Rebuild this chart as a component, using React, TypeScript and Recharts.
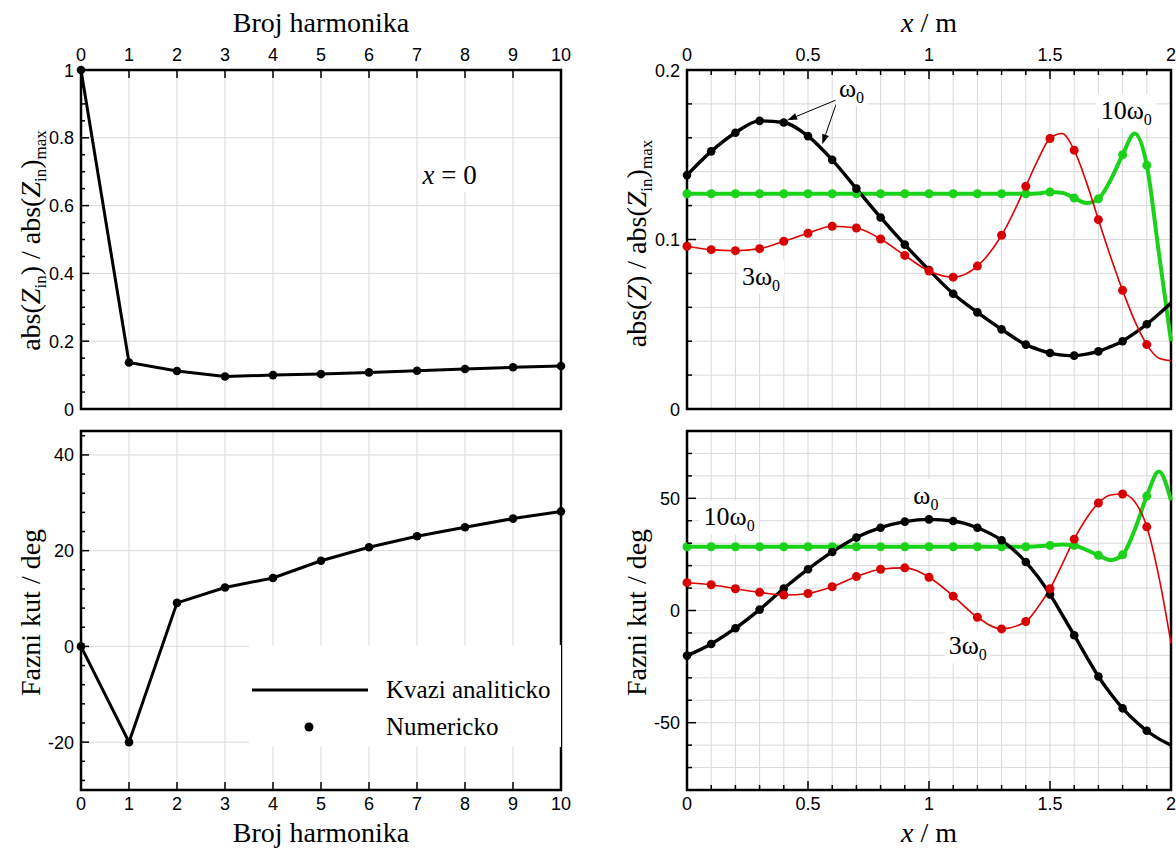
import React from 'react';
import {
  ComposedChart, Line, XAxis, YAxis, CartesianGrid, ReferenceArea, ReferenceDot, ReferenceLine, Legend,
} from 'recharts';

const SERIF = '"Liberation Serif", "Times New Roman", serif';
const SANS = '"Liberation Sans", Arial, sans-serif';
const GRID = '#d9d9d9';
const CRNA = '#000000';
const CRVENA = '#e00000';
const ZELENA = '#1ad21a';

// lijevi stupac: ulazna impedancija po broju harmonika (x = 0)
const harmonici = [0, 1, 2, 3, 4, 5, 6, 7, 8, 9, 10];
const absZinOmjer = [1, 0.137, 0.112, 0.096, 0.1, 0.103, 0.108, 0.113, 0.118, 0.123, 0.127];
const fazaZin = [0, -20, 9.1, 12.3, 14.3, 17.9, 20.7, 23.0, 24.9, 26.7, 28.2];

// desni stupac: raspodjela duz voda, numericke tocke
const xNum = [0, 0.1, 0.2, 0.3, 0.4, 0.5, 0.6, 0.7, 0.8, 0.9, 1.0, 1.1, 1.2, 1.3, 1.4, 1.5, 1.6, 1.7, 1.8, 1.9];
const absW0Num = [0.138, 0.152, 0.163, 0.17, 0.169, 0.161, 0.147, 0.13, 0.113, 0.097, 0.082, 0.068, 0.057, 0.047, 0.038, 0.033, 0.0315, 0.034, 0.04, 0.05];
const abs3W0Num = [0.096, 0.094, 0.0934, 0.0946, 0.099, 0.1037, 0.1078, 0.1068, 0.1003, 0.0906, 0.0814, 0.0778, 0.0843, 0.1025, 0.1314, 0.1596, 0.1527, 0.1117, 0.07, 0.038];
const abs10W0Num = [0.127, 0.127, 0.127, 0.127, 0.127, 0.127, 0.127, 0.127, 0.127, 0.127, 0.127, 0.127, 0.127, 0.127, 0.127, 0.128, 0.1245, 0.124, 0.15, 0.1438];
const fazaW0Num = [-20.1, -14.9, -7.9, 0.4, 9.8, 18.4, 26.1, 32.5, 36.9, 39.6, 40.6, 39.9, 36.9, 31.3, 21.6, 7.2, -11.0, -29.4, -43.6, -53.6];
const faza3W0Num = [12.4, 11.5, 9.7, 8.1, 6.9, 7.6, 10.6, 15.1, 18.4, 19.0, 14.8, 6.4, -3.0, -8.2, -4.9, 9.7, 31.8, 47.9, 51.9, 37.3];
const faza10W0Num = [28.4, 28.4, 28.4, 28.4, 28.4, 28.4, 28.4, 28.4, 28.4, 28.4, 28.4, 28.4, 28.4, 28.4, 28.4, 29.0, 29.0, 24.6, 24.8, 51.0];

// kvazi analiticke krivulje (gusce pri kraju voda)
const xKriv = [0, 0.1, 0.2, 0.3, 0.4, 0.5, 0.6, 0.7, 0.8, 0.9, 1.0, 1.1, 1.2, 1.3, 1.4, 1.45, 1.5, 1.55, 1.6, 1.65, 1.7, 1.75, 1.8, 1.85, 1.9, 1.95, 2.0];
const absW0Kriv = [0.138, 0.152, 0.163, 0.17, 0.169, 0.161, 0.147, 0.13, 0.113, 0.097, 0.082, 0.068, 0.057, 0.047, 0.038, 0.0352, 0.033, 0.0318, 0.0315, 0.0324, 0.034, 0.0368, 0.04, 0.0448, 0.05, 0.056, 0.0625];
const abs3W0Kriv = [0.096, 0.094, 0.0934, 0.0946, 0.099, 0.1037, 0.1078, 0.1068, 0.1003, 0.0906, 0.0814, 0.0778, 0.0843, 0.1025, 0.1314, 0.147, 0.1596, 0.1625, 0.1527, 0.134, 0.1117, 0.09, 0.07, 0.052, 0.038, 0.03, 0.0286];
const abs10W0Kriv = [0.127, 0.127, 0.127, 0.127, 0.127, 0.127, 0.127, 0.127, 0.127, 0.127, 0.127, 0.127, 0.127, 0.127, 0.127, 0.1272, 0.128, 0.1275, 0.1245, 0.1215, 0.124, 0.135, 0.15, 0.1625, 0.1438, 0.092, 0.04];
const fazaW0Kriv = [-20.1, -14.9, -7.9, 0.4, 9.8, 18.4, 26.1, 32.5, 36.9, 39.6, 40.6, 39.9, 36.9, 31.3, 21.6, 15.0, 7.2, -1.8, -11.0, -20.4, -29.4, -37.0, -43.6, -49.0, -53.6, -57.2, -60.0];
const faza3W0Kriv = [12.4, 11.5, 9.7, 8.1, 6.9, 7.6, 10.6, 15.1, 18.4, 19.0, 14.8, 6.4, -3.0, -8.2, -4.9, 1.5, 9.7, 20.5, 31.8, 41.0, 47.9, 51.5, 51.9, 48.5, 37.3, 15.0, -14.5];
const faza10W0Kriv = [28.4, 28.4, 28.4, 28.4, 28.4, 28.4, 28.4, 28.4, 28.4, 28.4, 28.4, 28.4, 28.4, 28.4, 28.4, 28.6, 29.0, 29.4, 29.0, 27.0, 24.6, 22.5, 24.8, 36.0, 51.0, 62.0, 49.0];

// oznake osi
const absLijevoTicks = [0, 0.05, 0.1, 0.15, 0.2, 0.25, 0.3, 0.35, 0.4, 0.45, 0.5, 0.55, 0.6, 0.65, 0.7, 0.75, 0.8, 0.85, 0.9, 0.95, 1];
const absLijevoGlavne = [0, 0.2, 0.4, 0.6, 0.8, 1];
const fazaLijevoTicks = [-28, -24, -20, -16, -12, -8, -4, 0, 4, 8, 12, 16, 20, 24, 28, 32, 36, 40, 44];
const fazaLijevoGlavne = [-20, 0, 20, 40];
const xDesnoTicks = [0, 0.1, 0.2, 0.3, 0.4, 0.5, 0.6, 0.7, 0.8, 0.9, 1, 1.1, 1.2, 1.3, 1.4, 1.5, 1.6, 1.7, 1.8, 1.9, 2];
const xDesnoGlavne = [0, 0.5, 1, 1.5, 2];
const absDesnoTicks = [0, 0.02, 0.04, 0.06, 0.08, 0.1, 0.12, 0.14, 0.16, 0.18, 0.2];
const absDesnoGlavne = [0, 0.1, 0.2];
const fazaDesnoTicks = [-80, -70, -60, -50, -40, -30, -20, -10, 0, 10, 20, 30, 40, 50, 60, 70, 80];
const fazaDesnoGlavne = [-50, 0, 50];

const rows = (xs: number[], ys: number[]) => xs.map((x, i) => ({ x, v: ys[i] }));
const harmRows = harmonici.map((n, i) => ({ x: n, abs: absZinOmjer[i], faza: fazaZin[i] }));

const fmt = (v: number) => String(Math.round(v * 1000) / 1000);

function makeTick(side: 'top' | 'bottom' | 'left', majors: number[], majorLen: number, minorLen: number) {
  return (props: any) => {
    const { x, y, payload } = props;
    const v = payload.value;
    const major = majors.some((m) => Math.abs(m - v) < 1e-6);
    const len = major ? majorLen : minorLen;
    if (side === 'left') {
      return (
        <g>
          <line x1={x} y1={y} x2={x + len} y2={y} stroke="#000" strokeWidth={1.5} />
          {major && (
            <text x={x - 7} y={y + 6.5} textAnchor="end" fontFamily={SANS} fontSize={18} fill="#000">{fmt(v)}</text>
          )}
        </g>
      );
    }
    if (side === 'top') {
      return (
        <g>
          <line x1={x} y1={y} x2={x} y2={y + len} stroke="#000" strokeWidth={1.5} />
          {major && (
            <text x={x} y={y - 9} textAnchor="middle" fontFamily={SANS} fontSize={18} fill="#000">{fmt(v)}</text>
          )}
        </g>
      );
    }
    return (
      <g>
        <line x1={x} y1={y} x2={x} y2={y - len} stroke="#000" strokeWidth={1.5} />
        {major && (
          <text x={x} y={y + 20} textAnchor="middle" fontFamily={SANS} fontSize={18} fill="#000">{fmt(v)}</text>
        )}
      </g>
    );
  };
}

const xTitle = (baseline: number, content: React.ReactNode) => (props: any) => {
  const vb = props.viewBox;
  return (
    <text x={vb.x + vb.width / 2} y={vb.y + baseline} textAnchor="middle" fontFamily={SERIF} fontSize={28} fill="#000">
      {content}
    </text>
  );
};

const yTitle = (baseX: number, shift: number, content: React.ReactNode) => (props: any) => {
  const vb = props.viewBox;
  const cy = vb.y + vb.height / 2 + shift;
  return (
    <text x={baseX} y={cy} transform={`rotate(-90, ${baseX}, ${cy})`} textAnchor="middle" fontFamily={SERIF} fontSize={28} fill="#000">
      {content}
    </text>
  );
};

const zinNaslov = (
  <>
    abs(<tspan fontStyle="italic">Z</tspan><tspan fontSize={17} dy={6}>in</tspan>
    <tspan dy={-6}>) / abs(</tspan><tspan fontStyle="italic">Z</tspan><tspan fontSize={17} dy={6}>in</tspan>
    <tspan dy={-6}>)</tspan><tspan fontSize={17} dy={6}>max</tspan>
  </>
);
const zNaslov = (
  <>
    abs(<tspan fontStyle="italic">Z</tspan>) / abs(<tspan fontStyle="italic">Z</tspan><tspan fontSize={17} dy={6}>in</tspan>
    <tspan dy={-6}>)</tspan><tspan fontSize={17} dy={6}>max</tspan>
  </>
);
const xmNaslov = (<><tspan fontStyle="italic">x</tspan> / m</>);

const omegaOznaka = (koef: string, w: number) => (props: any) => {
  const { cx, cy } = props;
  return (
    <g>
      <rect x={cx - w / 2} y={cy - 17} width={w} height={34} fill="#fff" />
      <text x={cx} y={cy + 8} textAnchor="middle" fontFamily={SERIF} fontSize={26} fill="#000">
        {koef}ω<tspan fontSize={16} dy={6}>0</tspan>
      </text>
    </g>
  );
};

const xNulaOznaka = (props: any) => {
  const { cx, cy } = props;
  return (
    <g>
      <rect x={cx - 31} y={cy - 16} width={62} height={32} fill="#fff" />
      <text x={cx} y={cy + 8} textAnchor="middle" fontFamily={SERIF} fontSize={27} fill="#000">
        <tspan fontStyle="italic">x</tspan> = 0
      </text>
    </g>
  );
};

const strelica = (props: any) => {
  const { x1, y1, x2, y2 } = props;
  const a = Math.atan2(y2 - y1, x2 - x1);
  const L = 10;
  const W = 3.5;
  const bx = x2 - L * Math.cos(a);
  const by = y2 - L * Math.sin(a);
  const px = -Math.sin(a) * W;
  const py = Math.cos(a) * W;
  return (
    <g>
      <line x1={x1} y1={y1} x2={bx} y2={by} stroke="#000" strokeWidth={1} />
      <polygon points={`${x2},${y2} ${bx + px},${by + py} ${bx - px},${by - py}`} fill="#000" />
    </g>
  );
};

const legendaSadrzaj = () => (
  <div style={{ background: '#fff', width: 312, height: 102 }}>
    <svg width={312} height={102}>
      <line x1={3} x2={119} y1={45} y2={45} stroke="#000" strokeWidth={3} />
      <text x={137} y={53} fontFamily={SERIF} fontSize={25} fill="#000">Kvazi analiticko</text>
      <circle cx={60} cy={82} r={4.5} fill="#000" />
      <text x={137} y={90} fontFamily={SERIF} fontSize={25} fill="#000">Numericko</text>
    </svg>
  </div>
);

const okvir = (x1: number, x2: number, y1: number, y2: number) => (
  <ReferenceArea x1={x1} x2={x2} y1={y1} y2={y2} fill="none" fillOpacity={0} stroke="#000" strokeWidth={2.5} />
);

const tocka = (boja: string, r: number) => ({ r, fill: boja, stroke: 'none', strokeWidth: 0 });

const pos = (left: number, top: number): React.CSSProperties => ({ position: 'absolute', left, top });

export default function App() {
  return (
    <div style={{ position: 'absolute', left: 0, top: 0, width: 1176, height: 849, background: '#fff' }}>
      {/* gore lijevo */}
      <div style={pos(0, 0)}>
        <ComposedChart width={580} height={420} data={harmRows} margin={{ top: 0, right: 19, bottom: 11, left: 0 }}>
          <CartesianGrid stroke={GRID} verticalValues={harmonici} horizontalValues={[0.2, 0.4, 0.6, 0.8]} />
          <XAxis dataKey="x" type="number" orientation="top" domain={[0, 10]} ticks={harmonici} interval={0} height={70}
            tickSize={0} tickMargin={0} tickLine={false} axisLine={false}
            tick={makeTick('top', harmonici, 8, 8)} label={xTitle(32, 'Broj harmonika')} />
          <YAxis type="number" domain={[0, 1]} ticks={absLijevoTicks} interval={0} width={81}
            tickSize={0} tickMargin={0} tickLine={false} axisLine={false}
            tick={makeTick('left', absLijevoGlavne, 8, 4)} label={yTitle(40, 1, zinNaslov)} />
          {okvir(0, 10, 0, 1)}
          <Line dataKey="abs" type="linear" stroke={CRNA} strokeWidth={3} dot={tocka(CRNA, 4.3)} isAnimationActive={false} />
          <ReferenceDot x={7.68} y={0.687} r={0} shape={xNulaOznaka} />
        </ComposedChart>
      </div>

      {/* dolje lijevo */}
      <div style={pos(0, 420)}>
        <ComposedChart width={580} height={429} data={harmRows} margin={{ top: 11, right: 19, bottom: 0, left: 0 }}>
          <CartesianGrid stroke={GRID} verticalValues={harmonici} horizontalValues={fazaLijevoGlavne} />
          <XAxis dataKey="x" type="number" orientation="bottom" domain={[0, 10]} ticks={harmonici} interval={0} height={59}
            tickSize={0} tickMargin={0} tickLine={false} axisLine={false}
            tick={makeTick('bottom', harmonici, 8, 8)} label={xTitle(52, 'Broj harmonika')} />
          <YAxis type="number" domain={[-30, 45]} ticks={fazaLijevoTicks} interval={0} width={81}
            tickSize={0} tickMargin={0} tickLine={false} axisLine={false}
            tick={makeTick('left', fazaLijevoGlavne, 8, 4)} label={yTitle(40, 2, 'Fazni kut / deg')} />
          {okvir(0, 10, -30, 45)}
          <Line dataKey="faza" type="linear" stroke={CRNA} strokeWidth={3} dot={tocka(CRNA, 4.3)} isAnimationActive={false} />
          <Legend layout="horizontal" verticalAlign="middle" align="center" content={legendaSadrzaj}
            wrapperStyle={{ left: 249, top: 225, width: 312, height: 102 }} />
        </ComposedChart>
      </div>

      {/* gore desno */}
      <div style={pos(580, 0)}>
        <ComposedChart width={596} height={420} margin={{ top: 0, right: 5, bottom: 11, left: 0 }}>
          <CartesianGrid stroke={GRID} verticalValues={xDesnoTicks} horizontalValues={absDesnoTicks} />
          <XAxis dataKey="x" type="number" orientation="top" domain={[0, 2]} ticks={xDesnoTicks} interval={0} height={70}
            tickSize={0} tickMargin={0} tickLine={false} axisLine={false}
            tick={makeTick('top', xDesnoGlavne, 9, 5)} label={xTitle(32, xmNaslov)} />
          <YAxis dataKey="v" type="number" domain={[0, 0.2]} ticks={absDesnoTicks} interval={0} width={107}
            tickSize={0} tickMargin={0} tickLine={false} axisLine={false}
            tick={makeTick('left', absDesnoGlavne, 9, 5)} label={yTitle(66, 4, zNaslov)} />
          {okvir(0, 2, 0, 0.2)}
          <Line data={rows(xKriv, abs10W0Kriv)} dataKey="v" type="monotone" stroke={ZELENA} strokeWidth={4} dot={false} isAnimationActive={false} />
          <Line data={rows(xNum, abs10W0Num)} dataKey="v" stroke="none" dot={tocka(ZELENA, 4.5)} isAnimationActive={false} />
          <Line data={rows(xKriv, absW0Kriv)} dataKey="v" type="monotone" stroke={CRNA} strokeWidth={3.4} dot={false} isAnimationActive={false} />
          <Line data={rows(xNum, absW0Num)} dataKey="v" stroke="none" dot={tocka(CRNA, 4.3)} isAnimationActive={false} />
          <Line data={rows(xKriv, abs3W0Kriv)} dataKey="v" type="monotone" stroke={CRVENA} strokeWidth={1.6} dot={false} isAnimationActive={false} />
          <Line data={rows(xNum, abs3W0Num)} dataKey="v" stroke="none" dot={tocka('#d80000', 4.5)} isAnimationActive={false} />
          <ReferenceLine segment={[{ x: 0.623, y: 0.1827 }, { x: 0.414, y: 0.1704 }]} shape={strelica} />
          <ReferenceLine segment={[{ x: 0.623, y: 0.1827 }, { x: 0.559, y: 0.1562 }]} shape={strelica} />
          <ReferenceDot x={0.68} y={0.189} r={0} shape={omegaOznaka('', 32)} />
          <ReferenceDot x={1.815} y={0.176} r={0} shape={omegaOznaka('10', 60)} />
          <ReferenceDot x={0.306} y={0.078} r={0} shape={omegaOznaka('3', 46)} />
        </ComposedChart>
      </div>

      {/* dolje desno */}
      <div style={pos(580, 420)}>
        <ComposedChart width={596} height={429} margin={{ top: 11, right: 5, bottom: 0, left: 0 }}>
          <CartesianGrid stroke={GRID} verticalValues={xDesnoTicks} horizontalValues={fazaDesnoTicks} />
          <XAxis dataKey="x" type="number" orientation="bottom" domain={[0, 2]} ticks={xDesnoTicks} interval={0} height={59}
            tickSize={0} tickMargin={0} tickLine={false} axisLine={false}
            tick={makeTick('bottom', xDesnoGlavne, 9, 5)} label={xTitle(52, xmNaslov)} />
          <YAxis dataKey="v" type="number" domain={[-80, 80]} ticks={fazaDesnoTicks} interval={0} width={107}
            tickSize={0} tickMargin={0} tickLine={false} axisLine={false}
            tick={makeTick('left', fazaDesnoGlavne, 9, 5)} label={yTitle(66, 2, 'Fazni kut / deg')} />
          {okvir(0, 2, -80, 80)}
          <Line data={rows(xKriv, faza10W0Kriv)} dataKey="v" type="monotone" stroke={ZELENA} strokeWidth={4} dot={false} isAnimationActive={false} />
          <Line data={rows(xNum, faza10W0Num)} dataKey="v" stroke="none" dot={tocka(ZELENA, 4.5)} isAnimationActive={false} />
          <Line data={rows(xKriv, fazaW0Kriv)} dataKey="v" type="monotone" stroke={CRNA} strokeWidth={3.4} dot={false} isAnimationActive={false} />
          <Line data={rows(xNum, fazaW0Num)} dataKey="v" stroke="none" dot={tocka(CRNA, 4.3)} isAnimationActive={false} />
          <Line data={rows(xKriv, faza3W0Kriv)} dataKey="v" type="monotone" stroke={CRVENA} strokeWidth={1.6} dot={false} isAnimationActive={false} />
          <Line data={rows(xNum, faza3W0Num)} dataKey="v" stroke="none" dot={tocka('#d80000', 4.5)} isAnimationActive={false} />
          <ReferenceDot x={0.987} y={51.2} r={0} shape={omegaOznaka('', 32)} />
          <ReferenceDot x={0.174} y={41.5} r={0} shape={omegaOznaka('10', 60)} />
          <ReferenceDot x={1.16} y={-16.0} r={0} shape={omegaOznaka('3', 46)} />
        </ComposedChart>
      </div>
    </div>
  );
}
